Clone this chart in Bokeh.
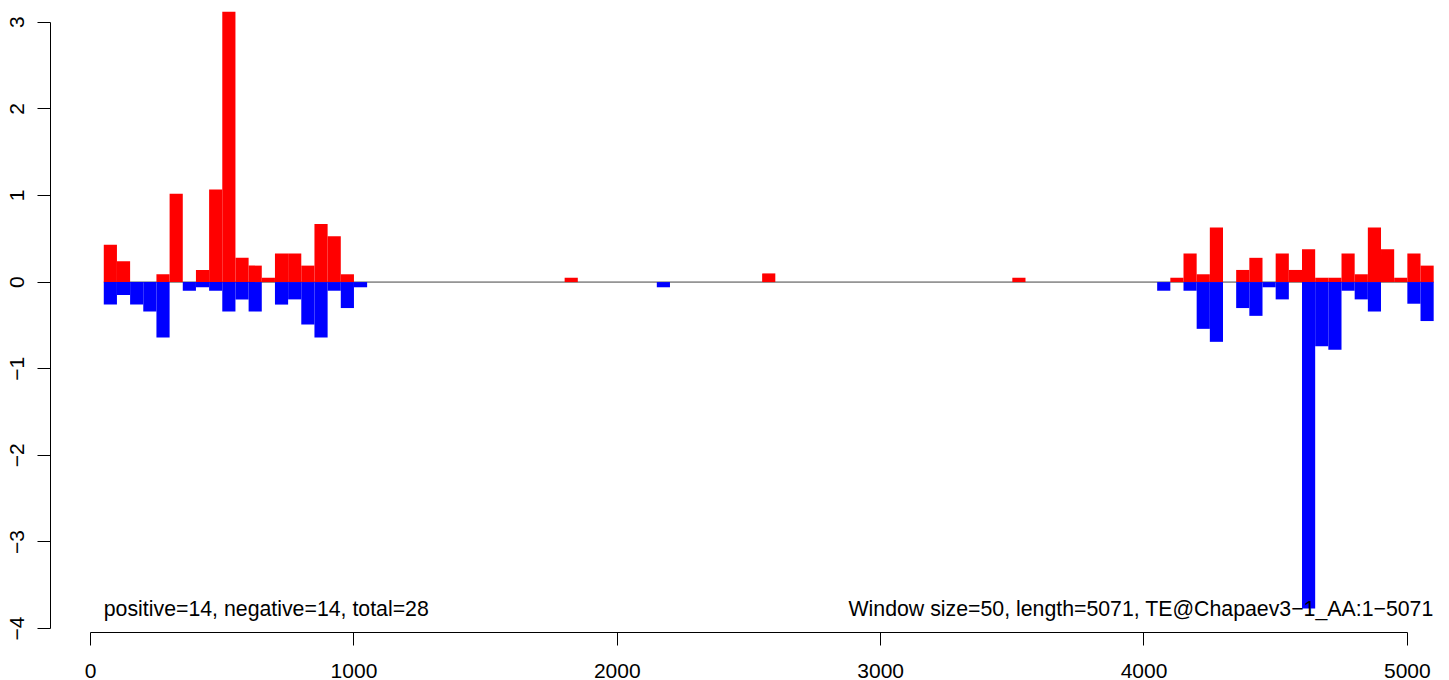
import math
from bokeh.plotting import figure
from bokeh.models import Range1d, ColumnDataSource, FixedTicker
from bokeh.core.properties import value
from bokeh.embed import file_html
from bokeh.resources import INLINE

# ---------------- data ----------------
window = 50
length = 5071
window_starts = [window * i for i in range(1, 102)]  # 50 .. 5050

pos_values = [
    0.43, 0.24, 0, 0, 0.09, 1.02, 0, 0.14, 1.07, 3.12,
    0.28, 0.19, 0.05, 0.33, 0.33, 0.19, 0.67, 0.53, 0.09, 0,
    0, 0, 0, 0, 0, 0, 0, 0, 0, 0,
    0, 0, 0, 0, 0, 0.05, 0, 0, 0, 0,
    0, 0, 0, 0, 0, 0, 0, 0, 0, 0,
    0.10, 0, 0, 0, 0, 0, 0, 0, 0, 0,
    0, 0, 0, 0, 0, 0, 0, 0, 0, 0.05,
    0, 0, 0, 0, 0, 0, 0, 0, 0, 0,
    0, 0.05, 0.33, 0.09, 0.63, 0, 0.14, 0.28, 0, 0.33,
    0.14, 0.38, 0.05, 0.05, 0.33, 0.09, 0.63, 0.38, 0.05, 0.33,
    0.19,
]
neg_values = [
    -0.26, -0.15, -0.26, -0.34, -0.64, 0, -0.10, -0.06, -0.10, -0.34,
    -0.20, -0.34, 0, -0.26, -0.20, -0.49, -0.64, -0.10, -0.30, -0.06,
    0, 0, 0, 0, 0, 0, 0, 0, 0, 0,
    0, 0, 0, 0, 0, 0, 0, 0, 0, 0,
    0, 0, -0.06, 0, 0, 0, 0, 0, 0, 0,
    0, 0, 0, 0, 0, 0, 0, 0, 0, 0,
    0, 0, 0, 0, 0, 0, 0, 0, 0, 0,
    0, 0, 0, 0, 0, 0, 0, 0, 0, 0,
    -0.10, 0, -0.10, -0.54, -0.69, 0, -0.30, -0.39, -0.06, -0.20,
    0, -3.77, -0.74, -0.78, -0.10, -0.20, -0.34, 0, 0, -0.25,
    -0.45,
]
x_ticks = [0, 1000, 2000, 3000, 4000, 5000]
y_ticks = [-4, -3, -2, -1, 0, 1, 2, 3]
left_text = "positive=14, negative=14, total=28"
right_text = "Window size=50, length=5071, TE@Chapaev3\u22121_AA:1\u22125071"

# ---------------- figure ----------------
FONT = "Liberation Sans"
p = figure(width=1441, height=680, output_backend="svg", toolbar_location=None,
           x_range=Range1d(-152.3, 5129.7), y_range=Range1d(-4.046, 3.251),
           min_border_left=50, min_border_right=0, min_border_top=0, min_border_bottom=48)
p.outline_line_color = None
p.grid.visible = False
p.background_fill_color = "white"
p.border_fill_color = "white"

# zero line across all windows
p.segment(x0=[window_starts[0]], x1=[window_starts[-1] + window], y0=[0], y1=[0],
          line_color="#444444", line_width=1)

pl = [s for s, v in zip(window_starts, pos_values) if v != 0]
pt = [v for v in pos_values if v != 0]
nl = [s for s, v in zip(window_starts, neg_values) if v != 0]
nb = [v for v in neg_values if v != 0]

pos_src = ColumnDataSource(dict(left=pl, right=[s + window for s in pl], top=pt, bottom=[0] * len(pl)))
neg_src = ColumnDataSource(dict(left=nl, right=[s + window for s in nl], top=[0] * len(nl), bottom=nb))
p.quad(left="left", right="right", top="top", bottom="bottom", source=pos_src,
       fill_color="#FF0000", line_color=None)
p.quad(left="left", right="right", top="top", bottom="bottom", source=neg_src,
       fill_color="#0000FF", line_color=None)

ymin = min(neg_values)
p.text(x=[window_starts[0]], y=[ymin], text=[left_text], text_align="left",
       text_baseline="alphabetic", text_font=value(FONT), text_font_size="21.3px", text_color="black")
p.text(x=[window_starts[-1] + window], y=[ymin], text=[right_text], text_align="right",
       text_baseline="alphabetic", text_font=value(FONT), text_font_size="21.3px", text_color="black")

# axes
for ax in (p.xaxis[0], p.yaxis[0]):
    ax.axis_line_color = "black"
    ax.axis_line_width = 1
    ax.major_tick_line_color = "black"
    ax.major_tick_out = 13
    ax.major_tick_in = 0
    ax.minor_tick_line_color = None
    ax.major_label_text_font = FONT
    ax.major_label_text_font_size = "21px"
    ax.major_label_text_color = "black"

p.xaxis[0].ticker = FixedTicker(ticks=x_ticks)
p.xaxis[0].bounds = (x_ticks[0], x_ticks[-1])
p.xaxis[0].major_label_text_line_height = 0.75
p.xaxis[0].major_label_standoff = 18

p.yaxis[0].ticker = FixedTicker(ticks=y_ticks)
p.yaxis[0].bounds = (y_ticks[0], y_ticks[-1])
p.yaxis[0].major_label_orientation = "vertical"
p.yaxis[0].major_label_standoff = 13
p.yaxis[0].major_label_overrides = {t: (str(t).replace("-", "\u2212")) for t in y_ticks}

open("out.html", "w").write(file_html(p, INLINE))
